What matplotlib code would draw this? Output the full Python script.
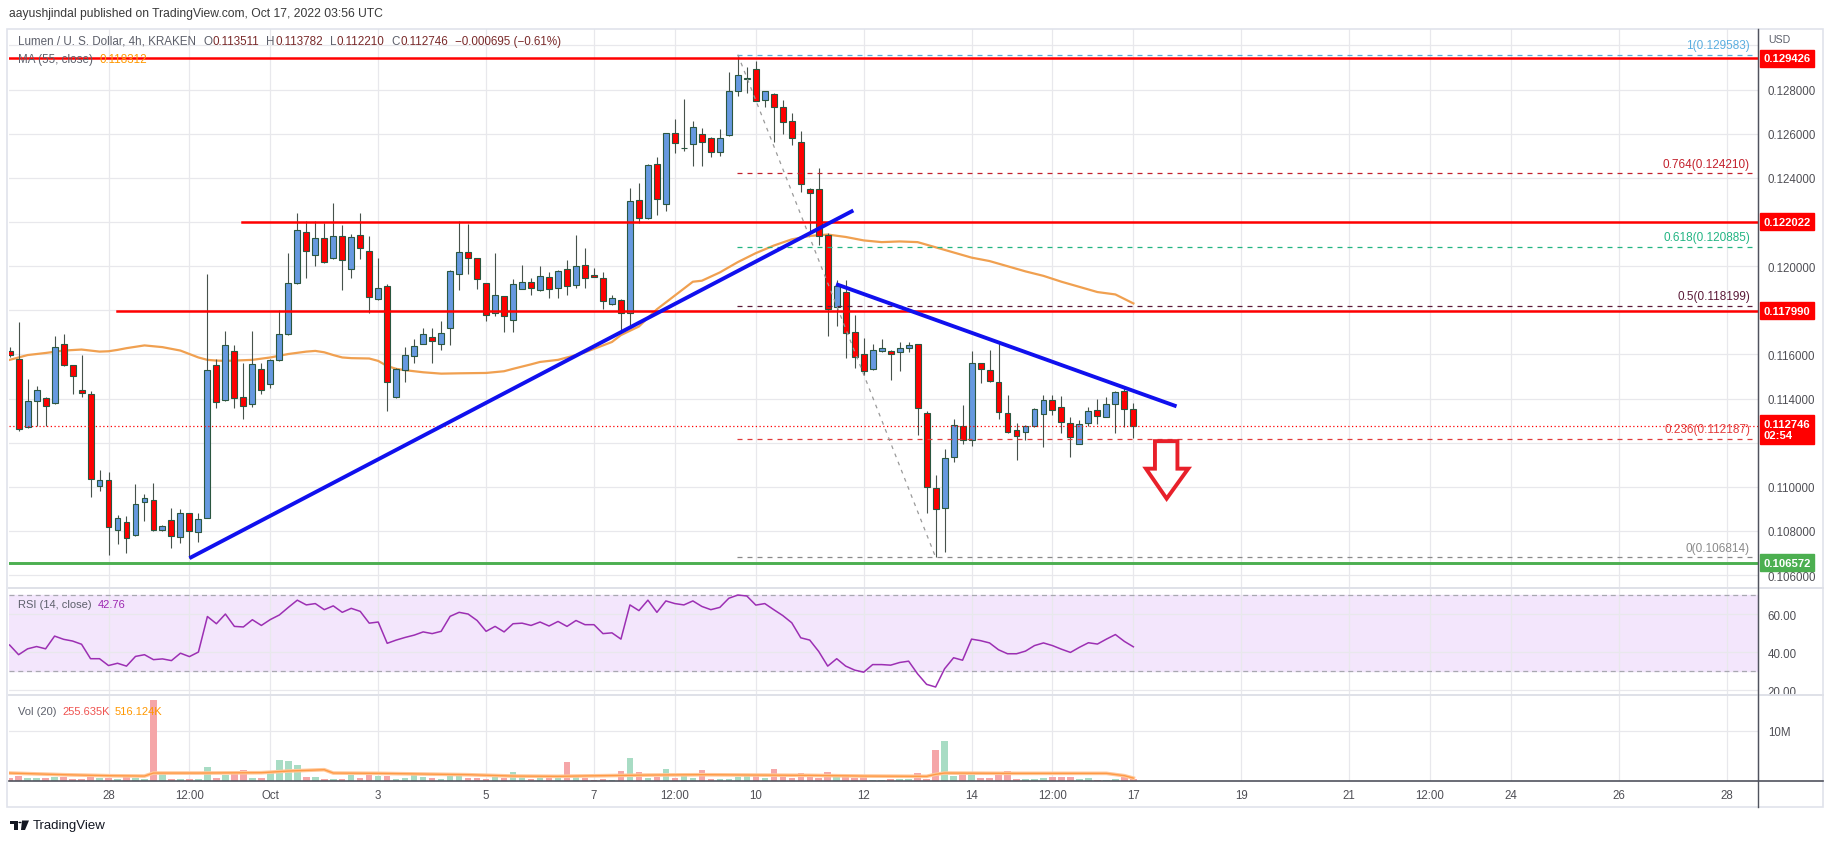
import numpy as np
import matplotlib
matplotlib.use("Agg")
import matplotlib.pyplot as plt
from matplotlib.lines import Line2D
from matplotlib.patches import Polygon, Rectangle, Circle

plt.rcParams['font.family'] = ['Liberation Sans', 'DejaVu Sans']

W, H = 1834, 845

# %%
# Data: XLM/USD 4h candles. bar 0 = Sep 28 00:00 UTC, one bar = 4 hours
first_bar = -11

opens = [0.116175, 0.115785, 0.112696, 0.113882, 0.114022, 0.113788, 0.116456, 0.115504, 0.114381, 0.114225, 0.110060,
         0.110325, 0.108063, 0.108391, 0.107813, 0.109295, 0.109389, 0.108032, 0.108484, 0.107720, 0.108796,
         0.107954, 0.108609, 0.115504, 0.113913, 0.116175, 0.114069, 0.113757, 0.115348, 0.114646, 0.115754,
         0.116908, 0.119217, 0.121526, 0.120496, 0.121292, 0.120356, 0.121354, 0.119888, 0.121401, 0.120668,
         0.118499, 0.119092, 0.114069, 0.115317, 0.115910, 0.116487, 0.116768, 0.116456, 0.117189, 0.119638,
         0.120621, 0.120356, 0.119217, 0.117860, 0.118640, 0.117579, 0.118983, 0.119295, 0.118905, 0.119529,
         0.119030, 0.119872, 0.119139, 0.120075, 0.119591, 0.119451, 0.118281, 0.118484, 0.117860, 0.122992,
         0.122165, 0.124646, 0.122805, 0.126019, 0.125332, 0.125535, 0.126003, 0.125800, 0.125192, 0.125925,
         0.127922, 0.128470, 0.128920, 0.127516, 0.127797, 0.127204, 0.126580, 0.125613, 0.123507, 0.123476,
         0.121401, 0.118156, 0.118811, 0.117033, 0.116003, 0.115348, 0.116175, 0.116175, 0.116097, 0.116284,
         0.116456, 0.113367, 0.109935, 0.109030, 0.111370, 0.112774, 0.112119, 0.115598, 0.115286, 0.114740,
         0.113367, 0.112556, 0.112478, 0.112743, 0.113289, 0.113944, 0.113601, 0.112899, 0.111947, 0.112899,
         0.113476, 0.113180, 0.113757, 0.114350, 0.113511]
highs = [0.116331, 0.117470, 0.114880, 0.114568, 0.114070, 0.116846, 0.116924, 0.115535, 0.115972, 0.114350, 0.110762,
         0.110668, 0.108718, 0.108687, 0.110138, 0.109670, 0.110169, 0.108266, 0.109046, 0.108999, 0.108800,
         0.108796, 0.119654, 0.115785, 0.117064, 0.116409, 0.115629, 0.117064, 0.115629, 0.115785, 0.118000,
         0.120590, 0.122415, 0.122025, 0.122025, 0.121947, 0.122852, 0.121869, 0.121479, 0.122415, 0.121370,
         0.120356, 0.119186, 0.115395, 0.116331, 0.116690, 0.117220, 0.117220, 0.117501, 0.119810, 0.122025,
         0.121916, 0.120387, 0.119248, 0.120605, 0.118670, 0.119404, 0.120044, 0.119451, 0.120028, 0.119732,
         0.119810, 0.120278, 0.121401, 0.120824, 0.119919, 0.119716, 0.118702, 0.118515, 0.123538, 0.123772,
         0.124630, 0.124942, 0.126050, 0.126658, 0.127563, 0.126580, 0.126268, 0.125830, 0.126206, 0.128811,
         0.129583, 0.129045, 0.129279, 0.127950, 0.127830, 0.127532, 0.126939, 0.126112, 0.123540, 0.124443,
         0.121510, 0.119373, 0.119373, 0.117782, 0.116752, 0.116487, 0.116721, 0.116210, 0.116565, 0.116565,
         0.116490, 0.113445, 0.110559, 0.111729, 0.113086, 0.113710, 0.116175, 0.115630, 0.116206, 0.116565,
         0.114147, 0.112899, 0.112821, 0.113570, 0.114147, 0.114147, 0.114100, 0.113164, 0.113008, 0.113632,
         0.113991, 0.114069, 0.114350, 0.114459, 0.113782]
lows = [0.115863, 0.112540, 0.112665, 0.112743, 0.112743, 0.113757, 0.115473, 0.114225, 0.114069, 0.109545, 0.109810,
        0.106893, 0.107392, 0.107002, 0.107782, 0.108453, 0.107985, 0.107985, 0.107236, 0.107439, 0.106768,
        0.107517, 0.108578, 0.113554, 0.113882, 0.113554, 0.113055, 0.113601, 0.114194, 0.114459, 0.115707,
        0.116877, 0.119186, 0.119482, 0.120028, 0.120153, 0.120309, 0.118905, 0.119451, 0.120340, 0.117891,
        0.118468, 0.113445, 0.114038, 0.114771, 0.115598, 0.116456, 0.115598, 0.116222, 0.116409, 0.118905,
        0.119654, 0.118952, 0.117532, 0.117735, 0.117002, 0.117033, 0.118952, 0.118671, 0.118874, 0.118562,
        0.118562, 0.118671, 0.119030, 0.119030, 0.119500, 0.118047, 0.118250, 0.117111, 0.117345, 0.121947,
        0.122134, 0.122337, 0.122493, 0.125145, 0.125223, 0.124552, 0.124521, 0.124958, 0.124989, 0.125894,
        0.127688, 0.127844, 0.127469, 0.127220, 0.125644, 0.126003, 0.125504, 0.123382, 0.121557, 0.120964,
        0.116830, 0.117298, 0.115816, 0.115395, 0.115083, 0.115317, 0.116097, 0.114849, 0.115270, 0.116097,
        0.112353, 0.108796, 0.106814, 0.107049, 0.111105, 0.111963, 0.111854, 0.114693, 0.114771, 0.113055,
        0.112447, 0.111230, 0.112119, 0.112696, 0.111807, 0.113242, 0.112431, 0.111370, 0.111920, 0.112743,
        0.112852, 0.113150, 0.112462, 0.112696, 0.112210]
closes = [0.115972, 0.112618, 0.113882, 0.114381, 0.113679, 0.116331, 0.115504, 0.115005, 0.114272, 0.110372, 0.110325,
          0.108172, 0.108609, 0.107673, 0.109202, 0.109483, 0.108032, 0.108219, 0.107767, 0.108796, 0.107985,
          0.108531, 0.115286, 0.113835, 0.116409, 0.114022, 0.113679, 0.115551, 0.114381, 0.115738, 0.116908,
          0.119217, 0.121619, 0.120668, 0.121276, 0.120200, 0.121354, 0.120293, 0.121323, 0.120808, 0.118624,
          0.118999, 0.114740, 0.115348, 0.115972, 0.116378, 0.116924, 0.116612, 0.116955, 0.119763, 0.120621,
          0.120356, 0.119404, 0.117766, 0.118687, 0.117735, 0.119186, 0.119295, 0.119030, 0.119560, 0.118983,
          0.119763, 0.119123, 0.119997, 0.119451, 0.119529, 0.118406, 0.118546, 0.117860, 0.122945, 0.122181,
          0.124568, 0.123039, 0.126019, 0.125566, 0.125345, 0.126315, 0.125613, 0.125192, 0.125800, 0.127922,
          0.128655, 0.128490, 0.127469, 0.127922, 0.127204, 0.126549, 0.125800, 0.123741, 0.123304, 0.121354,
          0.118078, 0.119108, 0.116955, 0.115863, 0.115239, 0.116222, 0.116284, 0.116003, 0.116284, 0.116440,
          0.113570, 0.109982, 0.108983, 0.111292, 0.112821, 0.112119, 0.115629, 0.115348, 0.114818, 0.113398,
          0.112478, 0.112322, 0.112743, 0.113523, 0.113913, 0.113476, 0.112946, 0.112275, 0.112868, 0.113445,
          0.113195, 0.113757, 0.114303, 0.113511, 0.112746]
volume_m = [0.53, 1.0, 0.53, 0.53, 0.53, 0.73, 0.73, 0.33, 0.33, 0.87, 0.53,
            0.53, 0.33, 0.8, 0.53, 0.33, 16.13, 1.47, 0.33, 0.33, 0.33,
            0.33, 2.73, 0.53, 1.13, 1.4, 2.13, 0.53, 0.53, 1.93, 4.13,
            3.93, 3.13, 0.73, 0.73, 0.33, 0.33, 0.33, 1.13, 0.53, 1.13,
            0.93, 0.93, 0.33, 0.53, 1.2, 0.73, 0.53, 0.33, 1.27, 1.27,
            0.53, 0.53, 0.33, 0.73, 0.53, 1.73, 0.8, 0.33, 0.8, 0.8,
            0.53, 3.73, 1.13, 0.53, 0.13, 0.33, 0.13, 1.93, 4.53, 1.73,
            0.53, 0.73, 2.33, 0.53, 0.93, 0.53, 2.13, 0.33, 0.33, 0.33,
            0.73, 0.93, 1.0, 0.53, 2.33, 0.73, 0.53, 1.53, 0.73, 0.53,
            1.73, 0.93, 1.13, 0.53, 0.73, 0.13, 0.13, 0.33, 0.33, 0.33,
            1.53, 0.33, 6.13, 7.93, 0.93, 1.53, 1.53, 0.53, 0.53, 1.13,
            1.93, 0.33, 0.33, 0.33, 0.53, 0.73, 0.73, 0.73, 0.33, 0.53,
            0.13, 0.13, 0.33, 0.73, 0.256]
rsi = [43.7, 38.6, 41.7, 42.9, 41.7, 48.4, 46.7, 45.8, 44.1, 36.5, 36.5,
       32.9, 34.1, 32.6, 37.7, 38.6, 36.0, 36.4, 35.5, 39.4, 37.6,
       40.0, 58.7, 54.9, 60.0, 53.5, 53.2, 57.0, 54.0, 57.1, 59.5,
       63.5, 67.3, 64.8, 65.5, 62.3, 64.3, 60.9, 63.0, 61.4, 55.2,
       55.8, 44.6, 46.3, 47.7, 48.9, 50.6, 49.7, 50.9, 58.8, 60.9,
       60.0, 56.6, 50.9, 53.5, 50.6, 54.9, 55.2, 54.0, 55.8, 53.7,
       56.1, 53.5, 56.6, 54.4, 54.4, 49.7, 50.1, 46.8, 64.8, 61.8,
       67.3, 60.9, 66.9, 65.5, 64.8, 66.9, 64.0, 62.3, 63.5, 68.3,
       70.0, 69.5, 64.7, 65.5, 62.3, 59.2, 55.4, 47.5, 46.3, 40.3,
       32.6, 36.5, 32.6, 30.5, 29.4, 33.4, 33.4, 33.1, 34.5, 35.2,
       28.5, 23.0, 21.6, 31.2, 37.0, 35.7, 46.8, 46.0, 44.8, 41.2,
       39.1, 39.1, 40.5, 43.4, 44.8, 43.4, 41.5, 39.8, 42.5, 44.9,
       44.2, 46.8, 49.2, 45.6, 42.76]

# MA(55) at these bars
ma_bars = [-11, -10, -9, -7, -5, -3, -2, -1, 0, 1, 2, 4, 6, 8, 9, 10, 11, 12, 13, 15, 16, 18, 20, 22, 23, 24,
           25, 26, 27, 29, 30, 31, 32, 33, 35, 37, 39, 42, 44, 45, 47, 48, 50, 52, 53, 55, 56, 57, 59, 60, 61,
           62, 63, 64, 65, 66, 68, 70, 72, 74, 76, 78, 80, 82, 84, 86, 88, 90, 92, 94, 96, 98, 100, 102, 104,
           106, 108, 110, 112, 114]
ma_vals = [0.115754, 0.115863, 0.115972, 0.116066, 0.116175, 0.116222, 0.116175, 0.116128, 0.116144, 0.116206,
           0.116284, 0.116409, 0.116331, 0.116175, 0.116019, 0.115863, 0.115754, 0.115723, 0.115707, 0.115738,
           0.115754, 0.115863, 0.116019, 0.116128, 0.116160, 0.116097, 0.115972, 0.115863, 0.115832, 0.115816,
           0.115707, 0.115473, 0.115348, 0.115286, 0.115192, 0.115130, 0.115145, 0.115161, 0.115239, 0.115348,
           0.115551, 0.115660, 0.115754, 0.115972, 0.116097, 0.116409, 0.116565, 0.116877, 0.117267, 0.117657,
           0.118047, 0.118359, 0.118671, 0.118983, 0.119295, 0.119340, 0.119716, 0.120184, 0.120590, 0.120933,
           0.121214, 0.121370, 0.121432, 0.121323, 0.121167, 0.121089, 0.121120, 0.121089, 0.120855, 0.120621,
           0.120387, 0.120231, 0.119997, 0.119763, 0.119560, 0.119295, 0.119061, 0.118827, 0.118718, 0.118312]

vol_ma_bars = [-11, -5, 0, 4, 5, 10, 17, 20, 24, 25, 30, 40, 45, 50, 52, 60, 66, 72, 78, 84, 91, 92, 93, 100,
               111, 113, 114]
vol_ma_vals = [1.53, 1.2, 1.0, 0.93, 1.53, 1.53, 1.6, 1.93, 2.2, 1.53, 1.47, 1.2, 0.93, 0.87, 0.93, 1.13, 1.2,
               1.13, 1.07, 0.93, 0.87, 1.27, 1.53, 1.47, 1.47, 1.0, 0.52]

time_ticks = [0, 9, 18, 30, 42, 54, 63, 72, 84, 96, 105, 114, 126, 138, 147, 156, 168, 180]
time_labels = ['28', '12:00', 'Oct', '3', '5', '7', '12:00', '10', '12', '14', '12:00', '17',
               '19', '21', '12:00', '24', '26', '28']

price_ticks = [0.106, 0.108, 0.110, 0.112, 0.114, 0.116, 0.118, 0.120, 0.122, 0.124, 0.126, 0.128, 0.130]
# tick labels hidden by the price tags on the axis
hidden_ticks = [0.112, 0.118, 0.122, 0.130]

# drawings on the chart
resistance_top = 0.129426
resistance_mid = 0.122022
resistance_low = 0.117990
support_green = 0.106572
last_close = 0.112746
fib_levels = [1, 0.764, 0.618, 0.5, 0.236, 0]
fib_prices = [0.129583, 0.124210, 0.120885, 0.118199, 0.112187, 0.106814]
fib_colors = ['#5aaee0', '#c3202c', '#22b583', '#5a1a38', '#e23b3b', '#8a8a8a']
trend_up = [(9, 0.106768), (82.85, 0.122524)]
trend_down = [(80.93, 0.119186), (118.8, 0.113648)]
arrow_shape = [(116.4, 0.112072), (118.9, 0.112072), (118.9, 0.110824), (120.1, 0.110824),
               (117.7, 0.109467), (115.4, 0.110824), (116.4, 0.110824)]

# %%
# Layout helpers (pixel coordinates of the original screenshot)

def fx(x):
    return x / W


def fy(y):
    return 1 - y / H


def rect(x0, y0, x1, y1):
    return [fx(x0), fy(y1), (x1 - x0) / W, (y1 - y0) / H]


fig = plt.figure(figsize=(W / 100, H / 100), dpi=100, facecolor='white')
ax = fig.add_axes(rect(9, 30, 1758, 589))
ax_rsi = fig.add_axes(rect(9, 589, 1758, 696), sharex=ax)
ax_vol = fig.add_axes(rect(9, 696, 1758, 782), sharex=ax)

axis_col = '#50535e'
grid_col = '#e8e8ec'
for a in (ax, ax_rsi, ax_vol):
    for s in a.spines.values():
        s.set_visible(False)
    a.spines['right'].set_visible(True)
    a.spines['right'].set_color(axis_col)
    a.yaxis.tick_right()
    a.tick_params(axis='both', length=0, labelsize=8.3, colors='#4f4f55')
    a.tick_params(axis='y', pad=7)
    a.grid(True, color=grid_col, lw=0.9)
    a.set_axisbelow(True)

ax.set_xlim(-11.07, 183.48)
ax.set_xticks(time_ticks)
ax_vol.set_xticklabels(time_labels)
ax_vol.tick_params(axis='x', pad=6)
ax.tick_params(labelbottom=False)
ax_rsi.tick_params(labelbottom=False)

# %%
# Price pane
bars = np.arange(len(opens)) + first_bar
o = np.array(opens)
c = np.array(closes)
up = c >= o
body_low = np.minimum(o, c)
body_h = np.maximum(np.abs(c - o), 0.00004)

ax.set_ylim(0.105417, 0.130746)
ax.set_yticks(price_ticks)
ax.set_yticklabels(['' if any(abs(t - h) < 1e-9 for h in hidden_ticks) else '%.6f' % t
                    for t in price_ticks])

ax.plot(ma_bars, ma_vals, color='#f0a050', lw=1.6, zorder=2)
ax.vlines(bars, lows, highs, color='#47524b', lw=0.8, zorder=3)
ax.bar(bars, body_h, bottom=body_low, width=0.66,
       color=np.where(up, '#6699e0', '#ff0000'), edgecolor='#2b5740', linewidth=0.8, zorder=4)

# fib retracement
for lvl, p, col in zip(fib_levels, fib_prices, fib_colors):
    ax.plot([69.9, 183.0], [p, p], color=col, lw=0.9, dashes=(4, 4), zorder=5)
    ax.annotate('%s(%.6f)' % (lvl, p), xy=(182.6, p), xytext=(0, 2.5), textcoords='offset points',
                ha='right', va='bottom', fontsize=8.5, color=col, zorder=6)
ax.plot([70, 92], [fib_prices[0], fib_prices[-1]], color='#9a9a9a', lw=0.9, dashes=(3, 4), zorder=5)

ax.axhline(last_close, color='#ff0000', lw=0.9, ls=(0, (1, 2)), zorder=5)
ax.axhline(resistance_top, color='#ff0000', lw=1.8, zorder=6)
ax.plot([14.8, 183.48], [resistance_mid] * 2, color='#ff0000', lw=1.8, zorder=6)
ax.plot([0.94, 183.48], [resistance_low] * 2, color='#ff0000', lw=1.8, zorder=6)
ax.axhline(support_green, color='#4caf50', lw=2.1, zorder=6)

ax.plot(*zip(*trend_up), color='#1010ee', lw=2.8, solid_capstyle='butt', zorder=7)
ax.plot(*zip(*trend_down), color='#1010ee', lw=2.8, solid_capstyle='butt', zorder=7)
ax.add_patch(Polygon(arrow_shape, closed=True, fill=False, edgecolor='#e8202a', lw=2.8,
                     joinstyle='miter', zorder=7))


def price_tag(a, y, text, color, dy=0, va='center'):
    a.annotate(text, xy=(1, y), xycoords=('axes fraction', 'data'), xytext=(4, dy),
               textcoords='offset points', ha='left', va=va, color='white', fontsize=8.1,
               fontweight='bold', annotation_clip=False, zorder=10,
               bbox=dict(boxstyle='square,pad=0.3', fc=color, ec=color))


price_tag(ax, resistance_top, '%.6f' % resistance_top, '#ff0000')
price_tag(ax, resistance_mid, '%.6f' % resistance_mid, '#ff0000')
price_tag(ax, resistance_low, '%.6f' % resistance_low, '#ff0000')
price_tag(ax, last_close, '%.6f\n02:54' % last_close, '#ff0000', dy=5.5, va='top')
price_tag(ax, support_green, '%.6f' % support_green, '#4caf50')

# %%
# RSI pane
ax_rsi.set_ylim(17.4, 73.7)
ax_rsi.set_yticks([20, 40, 60])
ax_rsi.set_yticklabels(['20.00', '40.00', '60.00'])
ax_rsi.axhspan(30, 70, color='#f3e6fc', zorder=0)
for lvl in (30, 70):
    ax_rsi.axhline(lvl, color='#a8a8b0', lw=0.9, dashes=(4, 3), zorder=1)
ax_rsi.plot(bars, rsi, color='#9c2fb3', lw=1.1, zorder=3)

# %%
# Volume pane
ax_vol.set_ylim(-0.06, 17.14)
ax_vol.set_yticks([10])
ax_vol.set_yticklabels(['10M'])
ax_vol.bar(bars, volume_m, width=0.72, color=np.where(up, '#a8dcc4', '#f5a6a8'), zorder=2)
ax_vol.plot(vol_ma_bars, vol_ma_vals, color='#ffc89a', lw=2.6, zorder=3)
ax_vol.plot(vol_ma_bars, vol_ma_vals, color='#ff9a45', lw=1.0, zorder=4)

# %%
# Frame, separators and texts
fig.patches.append(Rectangle((fx(7), fy(808)), (1823 - 7) / W, (808 - 30) / H, transform=fig.transFigure,
                             fill=False, edgecolor='#e0e3eb', lw=1.2))
for yy in (589, 696):
    fig.lines.append(Line2D([fx(9), fx(1823)], [fy(yy), fy(yy)], transform=fig.transFigure,
                            color='#dfe1e8', lw=1.4))
fig.lines.append(Line2D([fx(9), fx(1823)], [fy(782), fy(782)], transform=fig.transFigure,
                        color=axis_col, lw=1.2))
fig.lines.append(Line2D([fx(1758), fx(1758)], [fy(30), fy(808)], transform=fig.transFigure,
                        color=axis_col, lw=1.0))

renderer = fig.canvas.get_renderer()


def put(x, y, s, color, size=7.6, **kw):
    return fig.text(fx(x), fy(y), s, color=color, fontsize=size, va='center', ha='left', **kw)


def put_row(x, y, parts, size=7.6):
    # parts: (text, colour, gap after in px); each piece starts where the last one ended
    for s, col, gap in parts:
        t = put(x, y, s, col, size=size)
        x += t.get_window_extent(renderer).width + gap


grey = '#5d606b'
val = '#7a2a2a'
put(9, 14, 'aayushjindal published on TradingView.com, Oct 17, 2022 03:56 UTC', '#3a3a3a', size=8.7)
put_row(18, 42, [('Lumen / U. S. Dollar, 4h, KRAKEN', grey, 7),
                 ('O', grey, 0.5), ('0.113511', val, 7),
                 ('H', grey, 0.5), ('0.113782', val, 7),
                 ('L', grey, 0.5), ('0.112210', val, 7),
                 ('C', grey, 0.5), ('0.112746', val, 7),
                 ('\u22120.000695 (\u22120.61%)', val, 0)], size=8.4)
put_row(18, 60, [('MA (55, close)', grey, 7), ('0.118312', '#ff9800', 0)], size=8.4)
put(1768, 40, 'USD', grey, size=7.6)

put_row(18, 605, [('RSI (14, close)', grey, 6), ('42.76', '#9c27b0', 0)], size=8.0)
put_row(18, 712, [('Vol (20)', grey, 6), ('255.635K', '#ef5350', 5), ('516.124K', '#ff9800', 0)], size=8.0)

# TradingView logo
logo = [Rectangle((fx(10), fy(825)), 8 / W, 3.5 / H), Rectangle((fx(14), fy(831)), 4 / W, 9.5 / H),
        Polygon([(fx(22), fy(821.5)), (fx(29), fy(821.5)), (fx(25), fy(831)), (fx(21), fy(831))])]
for p in logo:
    p.set_transform(fig.transFigure)
    p.set_facecolor('#131722')
    p.set_edgecolor('none')
    fig.patches.append(p)
fig.patches.append(Circle((fx(20), fy(823.5)), 1.6 / W, transform=fig.transFigure, facecolor='#131722'))
put(33, 826, 'TradingView', '#131722', size=9.5)

fig.savefig('out.png', dpi=100, facecolor='white')
